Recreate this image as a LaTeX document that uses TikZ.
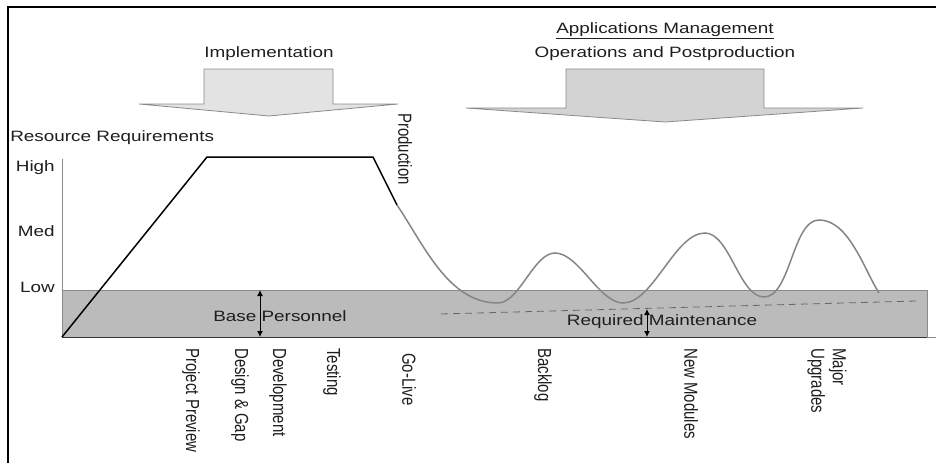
\documentclass[tikz,border=0pt]{standalone}
\usepackage{fontspec}
\setmainfont{Liberation Sans}
\usetikzlibrary{arrows.meta}
\definecolor{arrowA}{HTML}{E3E3E3}
\definecolor{arrowB}{HTML}{D3D3D3}
\definecolor{band}{HTML}{BBBBBB}
\definecolor{curvegray}{HTML}{858585}
\definecolor{edgegray}{HTML}{8A8A8A}
\definecolor{ink}{HTML}{1E1E1E}
\begin{document}
\begin{tikzpicture}[x=1pt,y=1pt,
  lbl/.style={font=\fontsize{15}{17}\selectfont, text=ink, inner sep=0pt, xscale=1.26},
  vlbl/.style={lbl, rotate=-90, anchor=west, align=left},
  bigarrow/.style={draw=edgegray, line width=0.8pt, line join=miter},
  dbl/.style={{Latex[length=6pt,width=6pt]}-{Latex[length=6pt,width=6pt]}, line width=1pt, black},
  curve/.style={curvegray, line width=1.5pt},
  wave/.style={out=0, in=180, looseness=0.72},
  effort/.style={black, line width=1.5pt, line join=miter}]
\useasboundingbox (0,0) rectangle (936,-463);
% frame
\draw[black, line width=1.4pt] (8,-463) -- (8,-7) -- (936,-7);
% base band
\fill[band] (62,-290) rectangle (927,-337);
\draw[edgegray, line width=0.8pt] (62,-290) -- (927,-290) -- (927,-337);
\draw[black!80, line width=1pt] (62,-337) -- (927,-337);
\draw[edgegray, line width=0.8pt] (927,-337) -- (936,-337);
% axis
\draw[edgegray, line width=0.8pt] (62,-159) -- (62,-337);
% block arrows
\draw[bigarrow, fill=arrowA] (204,-69) -- (333,-69) -- (333,-104) -- (398,-104) -- (269,-116) -- (139,-104) -- (204,-104) -- cycle;
\draw[bigarrow, fill=arrowB] (566,-69) -- (764,-69) -- (764,-108) -- (863,-108) -- (665,-122) -- (466,-108) -- (566,-108) -- cycle;
% effort curve
\coordinate (c0) at (62,-337);
\coordinate (c1) at (207,-157);
\coordinate (c2) at (373,-157);
\coordinate (c3) at (397,-205);
\draw[effort] (c0) -- (c1) -- (c2) -- (c3);
\draw[curve] (c3) to[out=-56,in=180,looseness=0.9] (498,-303) to[wave] (555,-253)
  to[wave] (623,-303) to[wave] (705,-233)
  to[wave] (764,-297) to[wave] (819,-220)
  to[out=0,in=122,looseness=0.8] (879,-293);
% maintenance trend
\draw[black!60, line width=0.8pt, dash pattern=on 7pt off 5pt] (441,-314) -- (916,-301);
% labels
\node[lbl, anchor=west] (rr) at (10,-138) {Resource Requirements};
\node[lbl, anchor=east] (hi) at (55,-168) {High};
\node[lbl, anchor=east] (med) at (55,-231) {Med};
\node[lbl, anchor=east] (low) at (55,-287) {Low};
\node[lbl] (impl) at (269,-54) {Implementation};
\node[lbl] (am) at (665,-31) {\underline{Applications Management}};
\node[lbl] (op) at (665,-54) {Operations and Postproduction};
\node[vlbl] (prod) at (405,-113) {Production};
\node[lbl] (bp) at (280,-316) {Base Personnel};
\node[lbl] (rm) at (662,-322) {Required Maintenance};
\coordinate (bpt) at (260,-290);
\coordinate (bpb) at (260,-337);
\draw[dbl] (bpt) -- (bpb);
\coordinate (rmt) at (647,-309);
\coordinate (rmb) at (647,-337);
\draw[dbl] (rmt) -- (rmb);
% phase labels
\node[vlbl] (pp) at (191,-348) {Project Preview};
\node[vlbl] (dg) at (240,-348) {Design \& Gap};
\node[vlbl] (dev) at (278,-348) {Development};
\node[vlbl] (test) at (332,-348) {Testing};
\node[vlbl] (gl) at (409,-353) {Go-Live};
\node[vlbl] (bl) at (543,-348) {Backlog};
\node[vlbl] (nm) at (691,-348) {New Modules};
\node[vlbl] (mu) at (827,-348) {Major\\Upgrades};
\end{tikzpicture}
\end{document}
